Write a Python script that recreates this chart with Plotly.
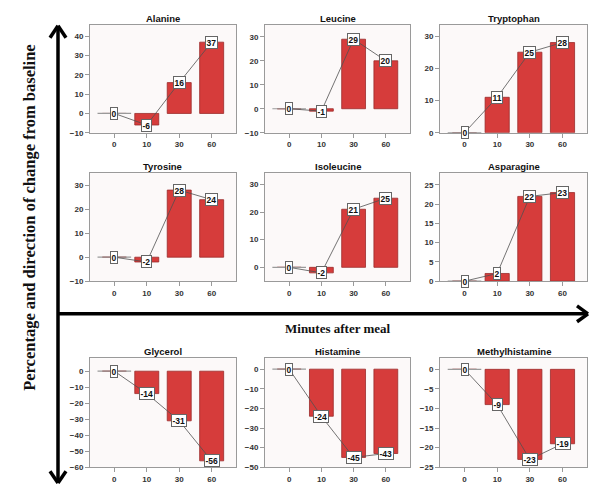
import plotly.graph_objects as go

# ---------------- data ----------------
minutes = ["0", "10", "30", "60"]
titles = ["Alanine", "Leucine", "Tryptophan",
          "Tyrosine", "Isoleucine", "Asparagine",
          "Glycerol", "Histamine", "Methylhistamine"]
alanine = [0, -6, 16, 37]
leucine = [0, -1, 29, 20]
tryptophan = [0, 11, 25, 28]
tyrosine = [0, -2, 28, 24]
isoleucine = [0, -2, 21, 25]
asparagine = [0, 2, 22, 23]
glycerol = [0, -14, -31, -56]
histamine = [0, -24, -45, -43]
methylhistamine = [0, -9, -23, -19]
series = [alanine, leucine, tryptophan, tyrosine, isoleucine, asparagine,
          glycerol, histamine, methylhistamine]

# axis ranges / tick steps (style)
y_ranges = [[-10, 46], [-10, 35], [0, 33.5],
            [-10, 35], [-5, 34], [0, 28],
            [-60, 8], [-50, 5.5], [-25, 2.8]]
y_dticks = [10, 10, 10, 10, 10, 5, 10, 10, 5]

W, H = 600, 488
def px(x):
    return x / W
def py(y):
    return 1 - y / H

cols = [(82, 228), (257, 402), (432, 579)]
rows = [(17, 126), (167, 276), (354, 464)]

BAR = "#d63c3b"
EDGE = "#9b2b2b"
FRAME = "#9a9a9a"
SANS = "Liberation Sans, Arial, sans-serif"
SERIF = "Liberation Serif, Times New Roman, serif"

fig = go.Figure()
annotations = []
layout_axes = {}

for i, (title, vals) in enumerate(zip(titles, series)):
    r, c = divmod(i, 3)
    n = i + 1
    xa = "x" if n == 1 else f"x{n}"
    ya = "y" if n == 1 else f"y{n}"
    fig.add_trace(go.Bar(x=minutes, y=vals, xaxis=xa, yaxis=ya, width=0.74,
                         marker=dict(color=BAR, line=dict(color=EDGE, width=0.8)),
                         hoverinfo="skip", showlegend=False))
    zx = [m for m, v in zip(minutes, vals) if v == 0]
    zy = [v for v in vals if v == 0]
    fig.add_trace(go.Scatter(x=zx, y=zy, xaxis=xa, yaxis=ya, mode="markers",
                             marker=dict(symbol="line-ew", size=24, color="#9a9a9a",
                                         line=dict(color="#9a9a9a", width=1.2)),
                             hoverinfo="skip", showlegend=False))
    fig.add_trace(go.Scatter(x=minutes, y=vals, xaxis=xa, yaxis=ya, mode="lines",
                             line=dict(color="#505050", width=0.8),
                             hoverinfo="skip", showlegend=False))
    for j, v in enumerate(vals):
        annotations.append(dict(x=j, y=v, xref=xa, yref=ya, text=f"<b>{v}</b>",
                                showarrow=False, bgcolor="white", bordercolor="#666",
                                borderwidth=1, borderpad=0.5,
                                xanchor="center", yanchor="middle",
                                font=dict(family=SANS, size=8.5, color="#111")))
    x0, x1 = cols[c]
    y0, y1 = rows[r]
    annotations.append(dict(x=(px(x0) + px(x1)) / 2, y=py(y0), xref="paper", yref="paper",
                            xanchor="center", yanchor="bottom", showarrow=False,
                            text=f"<b>{title}</b>", yshift=-1,
                            font=dict(family=SANS, size=9.5, color="#111")))
    axis_common = dict(showline=True, mirror=True, linecolor=FRAME, linewidth=1,
                       ticks="outside", ticklen=4, tickcolor=FRAME, showgrid=False,
                       zeroline=False, fixedrange=True,
                       tickfont=dict(family=SANS, size=8, color="#333", weight="bold"))
    layout_axes["xaxis" if n == 1 else f"xaxis{n}"] = dict(
        domain=[px(x0), px(x1)], anchor=ya, type="category",
        categoryorder="array", categoryarray=minutes, range=[-0.75, 3.75], **axis_common)
    layout_axes["yaxis" if n == 1 else f"yaxis{n}"] = dict(
        domain=[py(y1), py(y0)], anchor=xa, range=y_ranges[i], dtick=y_dticks[i],
        tick0=0, **axis_common)

# big arrows (decoration)
shapes = []
def seg(a, b, c_, d, w=3.5):
    shapes.append(dict(type="line", xref="paper", yref="paper",
                       x0=px(a), y0=py(b), x1=px(c_), y1=py(d),
                       line=dict(color="black", width=w)))
seg(50, 19, 50, 479)
seg(50, 18, 42, 30); seg(50, 18, 58, 30)
seg(50, 480, 42, 468); seg(50, 480, 58, 468)
seg(50, 309, 579, 309)
seg(580, 309, 569, 301); seg(580, 309, 569, 317)

annotations.append(dict(x=px(330), y=py(324), xref="paper", yref="paper",
                        xanchor="center", yanchor="middle",
                        text="<b>Minutes after meal</b>", showarrow=False,
                        font=dict(family=SERIF, size=13, color="#111")))
annotations.append(dict(x=px(22), y=py(212), xref="paper", yref="paper",
                        xanchor="center", yanchor="middle",
                        text="<b>Percentage and direction of change from baseline</b>",
                        textangle=-90, showarrow=False,
                        font=dict(family=SERIF, size=16.5, color="#111")))

fig.update_layout(width=W, height=H, margin=dict(l=0, r=0, t=0, b=0),
                  paper_bgcolor="white", plot_bgcolor="#fcf9f9",
                  bargap=0.26, showlegend=False,
                  annotations=annotations, shapes=shapes, **layout_axes)

fig.write_html("out.html")
